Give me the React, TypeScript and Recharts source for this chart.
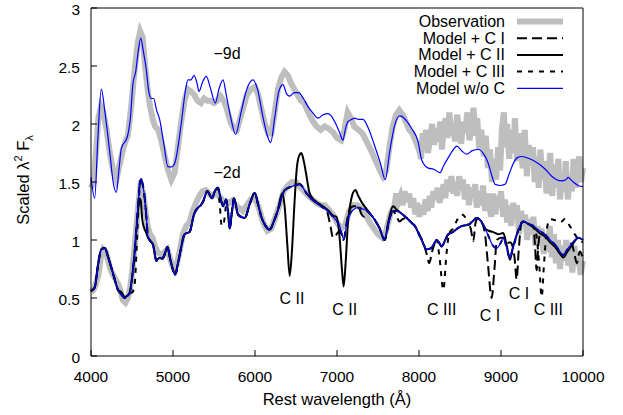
import { ComposedChart, Line, XAxis, YAxis, Scatter } from "recharts";

type Pt = [number, number];

const FONT = "'Liberation Sans', Arial, Helvetica, sans-serif";

const xTicks = [4000, 5000, 6000, 7000, 8000, 9000, 10000];
const yTicks = [0, 0.5, 1, 1.5, 2, 2.5, 3];

// -9d observation (noisy gray)
const obs9: Pt[] = [
  [4000, 1.45], [4030, 1.5], [4060, 1.75], [4090, 2.05], [4120, 2.15], [4150, 2.1], [4190, 1.95], [4230, 1.75],
  [4270, 1.6], [4310, 1.52], [4340, 1.62], [4380, 1.75], [4420, 1.85], [4450, 1.9], [4490, 2.15], [4530, 2.45],
  [4570, 2.7], [4600, 2.8], [4630, 2.75], [4660, 2.5], [4690, 2.3], [4720, 2.15], [4750, 2.05], [4780, 1.98],
  [4820, 1.95], [4860, 1.85], [4900, 1.72], [4940, 1.6], [4980, 1.52], [5020, 1.58], [5060, 1.8], [5100, 2.02],
  [5140, 2.2], [5180, 2.3], [5220, 2.28], [5260, 2.25], [5300, 2.2], [5340, 2.18], [5380, 2.22], [5420, 2.2],
  [5460, 2.2], [5500, 2.18], [5540, 2.2], [5580, 2.24], [5620, 2.2], [5660, 2.12], [5700, 2.02], [5740, 1.96],
  [5780, 1.95], [5820, 2.05], [5860, 2.15], [5900, 2.25], [5950, 2.3], [6000, 2.32], [6040, 2.25], [6080, 2.12],
  [6120, 2.0], [6160, 1.92], [6200, 1.92], [6240, 2.1], [6280, 2.3], [6320, 2.4], [6360, 2.45], [6400, 2.42],
  [6440, 2.35], [6480, 2.3], [6520, 2.25], [6560, 2.2], [6600, 2.18], [6650, 2.1], [6700, 2.03], [6750, 1.98],
  [6800, 1.95], [6850, 1.98], [6900, 1.96], [6950, 1.93], [7000, 1.88], [7050, 1.86], [7090, 1.95], [7130, 2.1],
  [7170, 2.05], [7210, 1.98], [7260, 1.95], [7310, 1.92], [7360, 1.85], [7410, 1.78], [7460, 1.7], [7510, 1.62],
  [7560, 1.55], [7600, 1.6], [7640, 1.8], [7680, 1.98], [7720, 2.08], [7760, 2.12], [7800, 2.08], [7840, 2.02],
  [7880, 1.95], [7920, 1.92], [7960, 1.85], [8000, 1.78], [8025, 1.7], [8045, 1.92], [8070, 1.8], [8085, 1.95],
  [8110, 1.75], [8140, 1.9], [8160, 2.0], [8185, 1.82], [8205, 1.96], [8230, 1.85], [8260, 2.02], [8280, 1.78],
  [8300, 1.95], [8325, 2.05], [8345, 1.88], [8370, 2.1], [8395, 1.9], [8410, 2.0], [8440, 1.85], [8465, 2.08],
  [8490, 1.95], [8515, 1.83], [8540, 2.02], [8560, 1.92], [8590, 2.1], [8615, 1.86], [8640, 1.98], [8665, 2.14],
  [8690, 1.9], [8710, 2.05], [8735, 1.78], [8760, 1.95], [8790, 1.72], [8815, 1.9], [8840, 1.62], [8865, 1.78],
  [8890, 1.5], [8915, 1.7], [8940, 1.52], [8965, 1.8], [8990, 1.6], [9010, 1.95], [9035, 2.1], [9055, 1.8],
  [9075, 2.0], [9100, 1.7], [9125, 1.95], [9150, 1.75], [9170, 2.05], [9195, 1.68], [9220, 1.92], [9240, 1.78],
  [9265, 1.62], [9290, 1.95], [9315, 1.55], [9340, 1.82], [9360, 1.65], [9390, 1.8], [9410, 1.5], [9435, 1.72],
  [9460, 1.45], [9480, 1.78], [9510, 1.52], [9530, 1.68], [9555, 1.4], [9580, 1.6], [9600, 1.75], [9625, 1.38],
  [9650, 1.65], [9670, 1.45], [9700, 1.7], [9720, 1.35], [9745, 1.58], [9770, 1.42], [9790, 1.68], [9815, 1.35],
  [9840, 1.55], [9865, 1.42], [9885, 1.7], [9910, 1.45], [9935, 1.62], [9955, 1.72], [9975, 1.5], [10000, 1.62],
];

// -9d model without carbon (blue)
const model9: Pt[] = [
  [4000, 1.54], [4045, 1.36], [4085, 1.9], [4126, 2.3], [4170, 2.1], [4230, 1.75], [4270, 1.5], [4309, 1.41],
  [4340, 1.6], [4370, 1.79], [4443, 1.89], [4480, 2.05], [4512, 2.35], [4545, 2.45], [4575, 2.62], [4606, 2.74],
  [4640, 2.62], [4674, 2.47], [4700, 2.3], [4735, 2.22], [4764, 2.22], [4800, 2.12], [4837, 2.04], [4890, 1.82],
  [4939, 1.63], [4980, 1.63], [5020, 1.66], [5100, 2.0], [5150, 2.28], [5183, 2.38], [5220, 2.38], [5256, 2.42],
  [5290, 2.36], [5317, 2.28], [5360, 2.36], [5406, 2.41], [5460, 2.3], [5516, 2.18], [5560, 2.3], [5610, 2.38],
  [5650, 2.25], [5700, 2.07], [5764, 1.91], [5830, 2.1], [5900, 2.3], [5976, 2.38], [6030, 2.3], [6100, 2.05],
  [6150, 1.9], [6191, 1.84], [6240, 2.05], [6290, 2.28], [6341, 2.34], [6385, 2.26], [6423, 2.24], [6480, 2.27],
  [6533, 2.27], [6590, 2.22], [6646, 2.15], [6700, 2.1], [6768, 2.05], [6830, 2.08], [6890, 2.09], [6940, 2.06],
  [6979, 2.01], [7030, 1.93], [7073, 1.86], [7100, 1.95], [7134, 2.02], [7180, 2.04], [7216, 2.05], [7260, 2.04],
  [7317, 2.04], [7390, 1.95], [7460, 1.81], [7530, 1.66], [7589, 1.52], [7640, 1.75], [7700, 1.98], [7765, 2.07],
  [7820, 2.05], [7866, 2.01], [7920, 1.95], [7988, 1.85], [8033, 1.69], [8113, 1.62], [8180, 1.61], [8256, 1.58],
  [8300, 1.64], [8357, 1.71], [8410, 1.77], [8460, 1.81], [8520, 1.77], [8582, 1.74], [8650, 1.77], [8723, 1.78],
  [8790, 1.74], [8845, 1.66], [8890, 1.55], [8927, 1.48], [8990, 1.47], [9049, 1.48], [9100, 1.57], [9150, 1.66],
  [9200, 1.71], [9252, 1.72], [9350, 1.7], [9455, 1.66], [9540, 1.61], [9618, 1.55], [9680, 1.52], [9740, 1.51],
  [9790, 1.52], [9821, 1.54], [9850, 1.52], [9882, 1.5], [9940, 1.47], [10000, 1.46],
];

// -2d observation (noisy gray)
const obs2: Pt[] = [
  [4000, 0.55], [4030, 0.57], [4060, 0.62], [4090, 0.7], [4120, 0.85], [4150, 0.92], [4180, 0.9], [4210, 0.82],
  [4240, 0.74], [4270, 0.7], [4300, 0.66], [4330, 0.62], [4360, 0.56], [4390, 0.48], [4420, 0.46], [4450, 0.5],
  [4480, 0.6], [4510, 0.78], [4540, 1.0], [4570, 1.25], [4600, 1.45], [4630, 1.42], [4660, 1.28], [4690, 1.12],
  [4720, 1.05], [4750, 1.02], [4780, 0.95], [4810, 0.9], [4840, 0.88], [4870, 0.86], [4900, 0.9], [4930, 0.92],
  [4960, 0.85], [4990, 0.78], [5020, 0.75], [5050, 0.8], [5080, 0.9], [5120, 1.05], [5160, 1.12], [5200, 1.15],
  [5240, 1.25], [5280, 1.32], [5320, 1.38], [5360, 1.42], [5400, 1.43], [5440, 1.4], [5480, 1.38], [5520, 1.4],
  [5560, 1.38], [5600, 1.35], [5640, 1.33], [5680, 1.32], [5720, 1.34], [5760, 1.3], [5800, 1.28], [5850, 1.25],
  [5900, 1.3], [5950, 1.35], [6000, 1.36], [6050, 1.27], [6100, 1.15], [6150, 1.08], [6200, 1.1], [6250, 1.2],
  [6300, 1.3], [6350, 1.42], [6400, 1.47], [6450, 1.5], [6500, 1.5], [6550, 1.46], [6600, 1.42], [6650, 1.38],
  [6700, 1.35], [6750, 1.32], [6800, 1.3], [6850, 1.3], [6900, 1.26], [6950, 1.22], [7000, 1.15], [7050, 1.1],
  [7100, 1.13], [7150, 1.25], [7200, 1.3], [7250, 1.3], [7300, 1.27], [7350, 1.22], [7400, 1.15], [7450, 1.1],
  [7500, 1.05], [7550, 1.02], [7600, 1.08], [7650, 1.22], [7700, 1.3], [7725, 1.4], [7750, 1.33], [7775, 1.38],
  [7800, 1.3], [7825, 1.42], [7850, 1.33], [7880, 1.4], [7905, 1.28], [7930, 1.36], [7955, 1.22], [7980, 1.32],
  [8005, 1.2], [8030, 1.3], [8055, 1.22], [8080, 1.35], [8105, 1.25], [8130, 1.38], [8150, 1.28], [8175, 1.42],
  [8200, 1.35], [8225, 1.45], [8250, 1.32], [8275, 1.4], [8300, 1.48], [8320, 1.36], [8345, 1.52], [8370, 1.42],
  [8395, 1.55], [8420, 1.4], [8440, 1.5], [8465, 1.38], [8490, 1.55], [8515, 1.45], [8535, 1.52], [8560, 1.35],
  [8585, 1.48], [8610, 1.3], [8635, 1.45], [8660, 1.38], [8685, 1.48], [8705, 1.28], [8730, 1.42], [8760, 1.3],
  [8780, 1.47], [8805, 1.25], [8830, 1.4], [8855, 1.3], [8880, 1.2], [8905, 1.4], [8930, 1.22], [8955, 1.38],
  [8980, 1.28], [9000, 1.42], [9025, 1.2], [9050, 1.35], [9075, 1.15], [9100, 1.3], [9125, 1.12], [9150, 1.32],
  [9170, 1.18], [9195, 1.3], [9220, 1.05], [9245, 1.25], [9270, 1.12], [9295, 1.22], [9320, 1.0], [9345, 1.18],
  [9370, 1.05], [9395, 1.2], [9420, 0.95], [9445, 1.12], [9470, 0.98], [9495, 1.1], [9520, 0.88], [9545, 1.05],
  [9570, 0.9], [9595, 1.12], [9620, 0.85], [9645, 1.05], [9670, 0.8], [9695, 1.0], [9720, 0.75], [9745, 0.95],
  [9770, 0.82], [9795, 1.0], [9820, 0.78], [9845, 0.92], [9870, 0.72], [9895, 0.95], [9920, 0.78], [9945, 0.88],
  [9970, 0.7], [10000, 0.82],
];

// -2d model without carbon (blue)
const model2: Pt[] = [
  [4000, 0.56], [4045, 0.59], [4085, 0.78], [4126, 0.92], [4167, 0.93], [4210, 0.85], [4248, 0.76], [4290, 0.66],
  [4329, 0.57], [4370, 0.53], [4411, 0.5], [4445, 0.52], [4472, 0.54], [4505, 0.7], [4533, 0.9], [4555, 1.12],
  [4573, 1.3], [4590, 1.45], [4606, 1.53], [4630, 1.48], [4655, 1.36], [4675, 1.2], [4695, 1.03], [4725, 0.99],
  [4756, 0.96], [4797, 0.82], [4837, 0.845], [4870, 0.84], [4900, 0.88], [4930, 0.94], [4971, 0.82], [5028, 0.7],
  [5055, 0.78], [5081, 0.87], [5142, 1.05], [5203, 1.07], [5256, 1.22], [5305, 1.28], [5340, 1.3], [5366, 1.33],
  [5419, 1.42], [5476, 1.36], [5510, 1.42], [5549, 1.45], [5580, 1.36], [5610, 1.29], [5650, 1.35], [5670, 1.25],
  [5691, 1.1], [5720, 1.25], [5744, 1.36], [5793, 1.22], [5874, 1.19], [5940, 1.32], [5996, 1.405], [6040, 1.3],
  [6077, 1.2], [6130, 1.12], [6179, 1.09], [6230, 1.16], [6280, 1.26], [6362, 1.43], [6443, 1.46], [6545, 1.48],
  [6626, 1.405], [6680, 1.36], [6728, 1.33], [6829, 1.28], [6900, 1.24], [6951, 1.2], [7032, 1.12], [7081, 1.01],
  [7120, 1.14], [7154, 1.22], [7200, 1.26], [7256, 1.28], [7300, 1.27], [7357, 1.26], [7410, 1.22], [7459, 1.175],
  [7520, 1.1], [7581, 1.0], [7630, 1.15], [7683, 1.25], [7730, 1.25], [7784, 1.23], [7850, 1.19], [7906, 1.15],
  [7951, 1.12], [8000, 1.05], [8033, 1.0], [8093, 0.92], [8150, 0.93], [8216, 1.0], [8250, 0.97], [8277, 0.945],
  [8320, 1.0], [8357, 1.05], [8418, 1.07], [8470, 1.1], [8520, 1.12], [8601, 1.13], [8650, 1.16], [8703, 1.19],
  [8760, 1.16], [8805, 1.1], [8850, 1.03], [8886, 0.97], [8947, 0.93], [9000, 0.98], [9028, 1.02], [9070, 0.93],
  [9110, 0.845], [9140, 0.92], [9171, 0.99], [9220, 1.1], [9272, 1.16], [9330, 1.14], [9394, 1.12], [9470, 1.08],
  [9537, 1.045], [9600, 1.0], [9659, 0.96], [9710, 0.91], [9760, 0.87], [9810, 0.92], [9862, 0.97], [9900, 1.0],
  [9943, 1.02], [10000, 1.0],
];

// -2d model + C I (dashed)
const modelCI: Pt[] = [
  [4000, 0.56], [4045, 0.59], [4085, 0.78], [4126, 0.92], [4167, 0.93], [4210, 0.85], [4248, 0.76], [4290, 0.66],
  [4329, 0.57], [4370, 0.53], [4411, 0.5], [4445, 0.52], [4472, 0.54], [4505, 0.7], [4533, 0.9], [4555, 1.12],
  [4573, 1.3], [4590, 1.45], [4606, 1.53], [4630, 1.48], [4655, 1.36], [4675, 1.2], [4695, 1.03], [4725, 0.99],
  [4756, 0.96], [4797, 0.82], [4837, 0.845], [4870, 0.84], [4900, 0.88], [4930, 0.94], [4971, 0.82], [5028, 0.7],
  [5055, 0.78], [5081, 0.87], [5142, 1.05], [5203, 1.07], [5256, 1.22], [5305, 1.28], [5340, 1.3], [5366, 1.33],
  [5419, 1.42], [5476, 1.36], [5510, 1.42], [5549, 1.45], [5580, 1.36], [5610, 1.29], [5650, 1.35], [5670, 1.25],
  [5691, 1.1], [5720, 1.25], [5744, 1.36], [5793, 1.22], [5874, 1.19], [5940, 1.32], [5996, 1.405], [6040, 1.3],
  [6077, 1.2], [6130, 1.12], [6179, 1.09], [6230, 1.16], [6280, 1.26], [6362, 1.43], [6443, 1.46], [6545, 1.48],
  [6626, 1.405], [6680, 1.36], [6728, 1.33], [6829, 1.28], [6880, 1.24], [6920, 1.12], [6951, 1.02], [6985, 1.04],
  [7032, 1.08], [7081, 1.0], [7120, 1.16], [7154, 1.26], [7200, 1.29], [7256, 1.29], [7300, 1.22], [7330, 1.2],
  [7357, 1.25], [7410, 1.22], [7459, 1.175], [7520, 1.1], [7581, 1.0], [7630, 1.15], [7683, 1.25], [7730, 1.2],
  [7760, 1.16], [7800, 1.18], [7850, 1.19], [7906, 1.15], [7951, 1.12], [8000, 1.05], [8050, 0.98], [8093, 0.88],
  [8125, 0.8], [8160, 0.9], [8216, 1.0], [8250, 0.97], [8277, 0.945], [8320, 1.0], [8357, 1.05], [8418, 1.07],
  [8470, 1.1], [8520, 1.12], [8601, 1.13], [8630, 1.1], [8662, 0.99], [8690, 1.15], [8720, 1.19], [8760, 1.16],
  [8805, 1.05], [8840, 0.8], [8886, 0.5], [8920, 0.75], [8950, 1.0], [9000, 1.02], [9028, 1.02], [9070, 0.97],
  [9110, 0.98], [9140, 0.95], [9165, 0.85], [9191, 0.66], [9215, 0.9], [9250, 1.15], [9272, 1.16], [9330, 1.14],
  [9394, 1.12], [9415, 0.95], [9434, 0.74], [9455, 0.95], [9480, 1.07], [9537, 1.045], [9600, 1.0], [9659, 0.96],
  [9710, 0.91], [9760, 0.87], [9810, 0.92], [9862, 0.97], [9895, 0.88], [9925, 0.8], [9960, 0.9], [10000, 0.84],
];

// -2d model + C II (solid black)
const modelCII: Pt[] = [
  [4000, 0.56], [4045, 0.59], [4085, 0.78], [4126, 0.92], [4167, 0.93], [4210, 0.85], [4248, 0.76], [4290, 0.66],
  [4329, 0.57], [4370, 0.55], [4411, 0.51], [4445, 0.52], [4472, 0.55], [4505, 0.7], [4533, 0.9], [4555, 1.1],
  [4573, 1.25], [4590, 1.36], [4606, 1.34], [4625, 1.18], [4650, 1.1], [4675, 1.06], [4695, 1.02], [4725, 0.99],
  [4756, 0.96], [4797, 0.83], [4837, 0.845], [4870, 0.84], [4900, 0.88], [4930, 0.94], [4971, 0.82], [5028, 0.7],
  [5055, 0.78], [5081, 0.87], [5142, 1.05], [5203, 1.07], [5256, 1.22], [5305, 1.28], [5340, 1.3], [5366, 1.33],
  [5419, 1.42], [5476, 1.36], [5510, 1.42], [5549, 1.45], [5580, 1.36], [5610, 1.29], [5650, 1.35], [5670, 1.25],
  [5691, 1.1], [5720, 1.25], [5744, 1.36], [5793, 1.22], [5874, 1.19], [5940, 1.32], [5996, 1.405], [6040, 1.3],
  [6077, 1.2], [6130, 1.12], [6179, 1.09], [6230, 1.16], [6280, 1.26], [6330, 1.4], [6360, 1.3], [6395, 0.95],
  [6423, 0.69], [6450, 0.9], [6480, 1.3], [6510, 1.62], [6540, 1.73], [6565, 1.75], [6595, 1.68], [6626, 1.56],
  [6660, 1.42], [6700, 1.36], [6748, 1.33], [6829, 1.29], [6900, 1.25], [6951, 1.21], [6992, 1.2], [7032, 1.02],
  [7060, 0.75], [7081, 0.6], [7105, 0.8], [7134, 1.15], [7160, 1.3], [7183, 1.38], [7224, 1.43], [7260, 1.38],
  [7297, 1.33], [7357, 1.27], [7410, 1.22], [7459, 1.175], [7520, 1.1], [7581, 1.0], [7630, 1.17], [7683, 1.29],
  [7730, 1.26], [7784, 1.23], [7850, 1.19], [7906, 1.15], [7951, 1.12], [8000, 1.05], [8033, 1.0], [8093, 0.92],
  [8150, 0.93], [8216, 1.0], [8250, 0.97], [8277, 0.945], [8320, 1.0], [8357, 1.05], [8418, 1.07], [8470, 1.1],
  [8520, 1.12], [8601, 1.13], [8650, 1.16], [8703, 1.19], [8760, 1.16], [8805, 1.1], [8850, 1.08], [8900, 1.07],
  [8967, 1.05], [9028, 1.06], [9070, 0.95], [9110, 0.83], [9140, 0.92], [9171, 1.0], [9220, 1.1], [9272, 1.16],
  [9330, 1.14], [9394, 1.11], [9470, 1.06], [9537, 1.03], [9600, 0.98], [9659, 0.94], [9710, 0.89], [9760, 0.85],
  [9810, 0.9], [9862, 0.95], [9900, 0.99], [9943, 1.02], [10000, 1.0],
];

// -2d model + C III (dotted)
const modelCIII: Pt[] = [
  [4000, 0.56], [4045, 0.59], [4085, 0.78], [4126, 0.92], [4167, 0.93], [4210, 0.85], [4248, 0.76], [4290, 0.66],
  [4329, 0.57], [4370, 0.53], [4411, 0.5], [4445, 0.52], [4472, 0.54], [4505, 0.55], [4533, 0.62], [4555, 0.9],
  [4580, 1.3], [4606, 1.53], [4630, 1.48], [4655, 1.36], [4675, 1.2], [4695, 1.03], [4725, 0.99], [4756, 0.96],
  [4797, 0.82], [4837, 0.845], [4870, 0.84], [4900, 0.88], [4930, 0.94], [4971, 0.82], [5028, 0.7], [5055, 0.78],
  [5081, 0.87], [5142, 1.05], [5203, 1.07], [5256, 1.22], [5305, 1.28], [5340, 1.3], [5366, 1.33], [5419, 1.42],
  [5476, 1.36], [5510, 1.42], [5549, 1.45], [5570, 1.3], [5595, 1.12], [5620, 1.15], [5650, 1.3], [5670, 1.25],
  [5691, 1.1], [5720, 1.25], [5744, 1.36], [5793, 1.22], [5874, 1.19], [5940, 1.32], [5996, 1.405], [6040, 1.3],
  [6077, 1.2], [6130, 1.12], [6179, 1.09], [6230, 1.16], [6280, 1.26], [6362, 1.43], [6443, 1.46], [6545, 1.48],
  [6626, 1.405], [6680, 1.36], [6728, 1.33], [6829, 1.28], [6900, 1.24], [6951, 1.2], [7032, 1.12], [7081, 1.01],
  [7120, 1.14], [7154, 1.22], [7200, 1.26], [7256, 1.28], [7300, 1.27], [7357, 1.26], [7410, 1.22], [7459, 1.175],
  [7520, 1.1], [7581, 1.0], [7630, 1.15], [7683, 1.25], [7730, 1.25], [7784, 1.23], [7850, 1.19], [7906, 1.15],
  [7951, 1.12], [8000, 1.05], [8033, 1.0], [8093, 0.92], [8150, 0.93], [8216, 1.0], [8250, 0.85], [8297, 0.57],
  [8335, 0.88], [8370, 1.06], [8418, 1.1], [8470, 1.18], [8520, 1.22], [8560, 1.2], [8601, 1.13], [8650, 1.16],
  [8703, 1.19], [8760, 1.16], [8805, 1.1], [8850, 1.03], [8886, 0.97], [8947, 0.93], [9000, 0.98], [9028, 1.02],
  [9070, 0.93], [9110, 0.845], [9140, 0.92], [9171, 0.99], [9220, 1.1], [9272, 1.16], [9330, 1.14], [9394, 1.12],
  [9430, 1.05], [9465, 0.8], [9496, 0.51], [9525, 0.8], [9560, 1.1], [9600, 1.18], [9660, 1.17], [9720, 1.15],
  [9780, 1.18], [9840, 1.12], [9900, 1.05], [9950, 1.0], [10000, 0.98],
];

const notes = [
  { x: 5659, y: 2.606, text: "\u22129d" },
  { x: 5659, y: 1.585, text: "\u22122d" },
  { x: 6451, y: 0.494, text: "C II" },
  { x: 7094, y: 0.402, text: "C II" },
  { x: 8277, y: 0.399, text: "C III" },
  { x: 8866, y: 0.348, text: "C I" },
  { x: 9220, y: 0.537, text: "C I" },
  { x: 9577, y: 0.399, text: "C III" },
];

const legendNames = ["Observation", "Model + C I", "Model + C II", "Model + C III", "Model w/o C"];

const rows = (pts: Pt[]) => pts.map(([x, y]) => ({ x, y }));

const GRAY = "#bebebe";
const BLUE = "#0000ff";

const BottomTick = ({ x, y, payload }: any) => (
  <g>
    <line x1={x} y1={y} x2={x} y2={y - 6} stroke="#000" />
    <text x={x} y={y + 25.5} textAnchor="middle" fontSize={15.5} fontFamily={FONT} fill="#000">
      {payload.value}
    </text>
  </g>
);
const TopTick = ({ x, y }: any) => <line x1={x} y1={y} x2={x} y2={y + 6} stroke="#000" />;
const LeftTick = ({ x, y, payload }: any) => (
  <g>
    <line x1={x} y1={y} x2={x + 6} y2={y} stroke="#000" />
    <text x={x - 11} y={y + 6.5} textAnchor="end" fontSize={15.5} fontFamily={FONT} fill="#000">
      {payload.value}
    </text>
  </g>
);
const RightTick = ({ x, y }: any) => <line x1={x} y1={y} x2={x - 6} y2={y} stroke="#000" />;

const NoteText = (p: any) => (
  <text x={p.cx} y={p.cy} textAnchor="middle" dominantBaseline="central" fontSize={16} fontFamily={FONT} fill="#000">
    {p.payload.text}
  </text>
);

export default function App() {
  const common = { dot: false, activeDot: false, isAnimationActive: false, legendType: "none" as const };
  return (
    <div style={{ position: "absolute", left: 0, top: 0, width: 623, height: 415, background: "#fff" }}>
      <ComposedChart width={623} height={415} margin={{ top: 7, right: 39, bottom: 58, left: 90 }}>
        <XAxis dataKey="x" type="number" domain={[4000, 10000]} ticks={xTicks} interval={0} height={1}
          tickSize={0} tickMargin={0} tickLine={false} axisLine={{ stroke: "#000" }} tick={(p: any) => <BottomTick {...p} />} />
        <XAxis xAxisId="top" orientation="top" dataKey="x" type="number" domain={[4000, 10000]} ticks={xTicks}
          interval={0} height={1} tickSize={0} tickMargin={0} tickLine={false} axisLine={{ stroke: "#000" }}
          tick={(p: any) => <TopTick {...p} />} />
        <YAxis dataKey="y" type="number" domain={[0, 3]} ticks={yTicks} interval={0} width={1} tickSize={0}
          tickMargin={0} tickLine={false} axisLine={{ stroke: "#000" }} tick={(p: any) => <LeftTick {...p} />} />
        <YAxis yAxisId="right" orientation="right" type="number" domain={[0, 3]} ticks={yTicks} interval={0}
          width={1} tickSize={0} tickMargin={0} tickLine={false} axisLine={{ stroke: "#000" }}
          tick={(p: any) => <RightTick {...p} />} />

        <Line {...common} data={rows(obs9)} dataKey="y" type="linear" stroke={GRAY} strokeWidth={6} />
        <Line {...common} data={rows(obs2)} dataKey="y" type="linear" stroke={GRAY} strokeWidth={6} />
        <Line {...common} data={rows(modelCI)} dataKey="y" type="monotone" stroke="#000" strokeWidth={2} strokeDasharray="10 5" />
        <Line {...common} data={rows(modelCIII)} dataKey="y" type="monotone" stroke="#000" strokeWidth={2} strokeDasharray="5 6" />
        <Line {...common} data={rows(modelCII)} dataKey="y" type="monotone" stroke="#000" strokeWidth={2} />
        <Line {...common} data={rows(model9)} dataKey="y" type="monotone" stroke={BLUE} strokeWidth={1.2} />
        <Line {...common} data={rows(model2)} dataKey="y" type="monotone" stroke={BLUE} strokeWidth={1.2} />
        <Scatter data={notes} dataKey="y" shape={NoteText} isAnimationActive={false} legendType="none" />
      </ComposedChart>

      <svg width={623} height={415} style={{ position: "absolute", left: 0, top: 0, pointerEvents: "none" }}>
        <g fontFamily={FONT} fontSize={16} fill="#000">
          {legendNames.map((name, i) => (
            <text key={name} x={505} y={27 + i * 16.7} textAnchor="end">{name}</text>
          ))}
        </g>
        <line x1={517} x2={563} y1={21.5} y2={21.5} stroke={GRAY} strokeWidth={6} />
        <line x1={517} x2={563} y1={38.2} y2={38.2} stroke="#000" strokeWidth={2} strokeDasharray="10 5" />
        <line x1={517} x2={563} y1={54.9} y2={54.9} stroke="#000" strokeWidth={2} />
        <line x1={517} x2={563} y1={71.6} y2={71.6} stroke="#000" strokeWidth={2} strokeDasharray="5 6" />
        <line x1={517} x2={563} y1={88.3} y2={88.3} stroke={BLUE} strokeWidth={1.2} />

        <text x={337} y={405} textAnchor="middle" fontFamily={FONT} fontSize={16.5} fill="#000">
          Rest wavelength (Å)
        </text>
        <text transform="translate(29,180) rotate(-90)" textAnchor="middle" fontFamily={FONT} fontSize={16.5} fill="#000">
          Scaled λ<tspan fontSize={11} dy={-7}>2</tspan>
          <tspan dy={7}> F</tspan>
          <tspan fontSize={11} dy={4}>λ</tspan>
        </text>
      </svg>
    </div>
  );
}
